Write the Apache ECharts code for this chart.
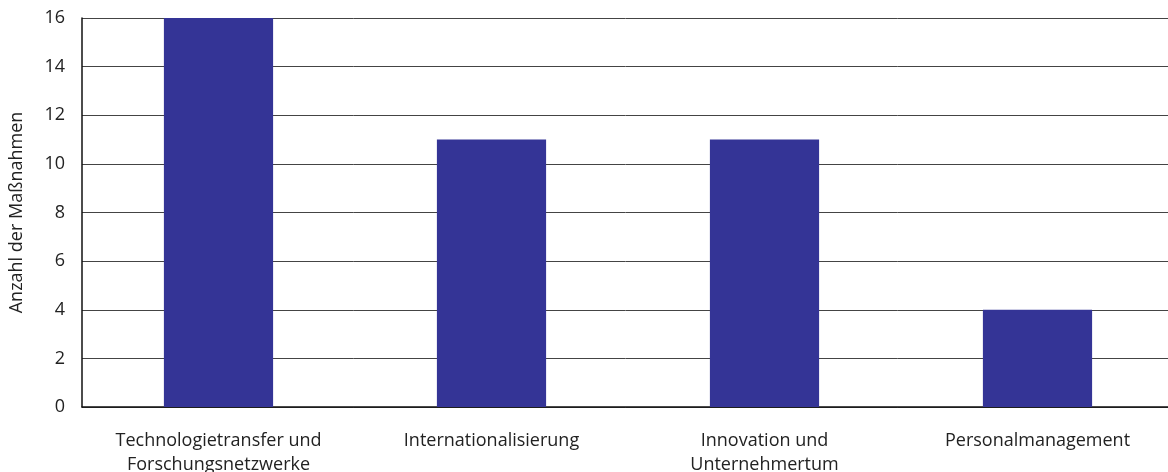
<!DOCTYPE html>
<html>
<head>
<meta charset="utf-8">
<script src="https://cdn.jsdelivr.net/npm/echarts@6/dist/echarts.min.js"></script>
<style>
  html, body { margin: 0; padding: 0; background: #fff; }
  #chart { width: 1168px; height: 472px; }
</style>
</head>
<body>
<div id="chart"></div>
<script>
// Maßnahmen je Handlungsfeld
const categories = [
  'Technologietransfer und\nForschungsnetzwerke',
  'Internationalisierung',
  'Innovation und\nUnternehmertum',
  'Personalmanagement'
];
const values = [16, 11, 11, 4];
const yTicks = { min: 0, max: 16, interval: 2 };

const chart = echarts.init(document.getElementById('chart'), null, { renderer: 'canvas' });
const font = '"Open Sans", "Noto Sans", sans-serif';

chart.setOption({
  animation: false,
  backgroundColor: '#ffffff',
  grid: {
    left: 82, top: 18, width: 1092, height: 389,
    containLabel: false,
    outerBoundsMode: 'none'
  },
  xAxis: {
    type: 'category',
    data: categories,
    axisLine: { show: true, lineStyle: { color: '#111', width: 1.5 } },
    axisTick: { show: false },
    axisLabel: {
      interval: 0,
      color: '#222',
      fontFamily: font,
      fontSize: 18,
      lineHeight: 24,
      margin: 22
    },
    splitLine: { show: false }
  },
  yAxis: {
    type: 'value',
    min: yTicks.min,
    max: yTicks.max,
    interval: yTicks.interval,
    name: 'Anzahl der Maßnahmen',
    nameLocation: 'middle',
    nameGap: 56,
    nameRotate: 90,
    nameTextStyle: { color: '#222', fontFamily: font, fontSize: 18 },
    axisLine: { show: true, lineStyle: { color: '#111', width: 1.5 } },
    axisTick: { show: false },
    axisLabel: { color: '#222', fontFamily: font, fontSize: 18, margin: 17 },
    splitLine: { show: true, lineStyle: { color: '#444', width: 1 } }
  },
  series: [{
    type: 'bar',
    data: values,
    barWidth: '40%',
    itemStyle: { color: '#343496' },
    z: 3
  }]
});
</script>
</body>
</html>
